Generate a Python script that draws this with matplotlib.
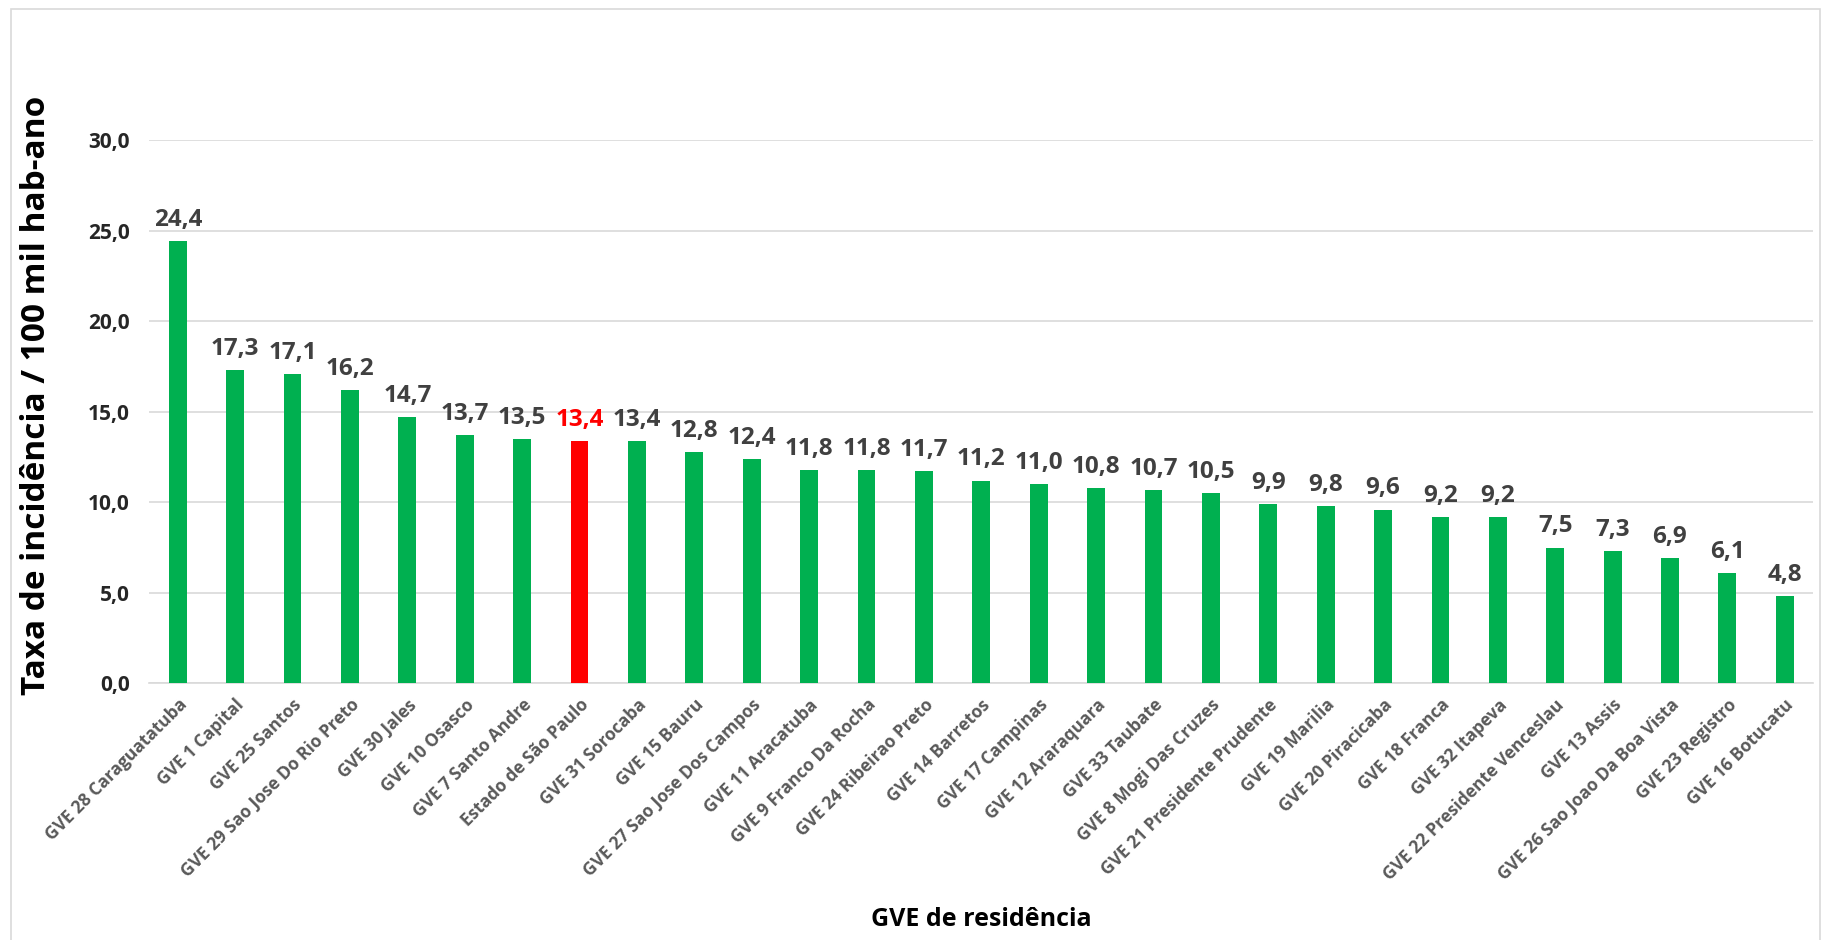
import matplotlib.pyplot as plt
from matplotlib.patches import Rectangle

plt.rcParams['font.family'] = ['Open Sans', 'DejaVu Sans']

gve = ['GVE 28 Caraguatatuba', 'GVE 1 Capital', 'GVE 25 Santos', 'GVE 29 Sao Jose Do Rio Preto',
       'GVE 30 Jales', 'GVE 10 Osasco', 'GVE 7 Santo Andre', 'Estado de São Paulo',
       'GVE 31 Sorocaba', 'GVE 15 Bauru', 'GVE 27 Sao Jose Dos Campos', 'GVE 11 Aracatuba',
       'GVE 9 Franco Da Rocha', 'GVE 24 Ribeirao Preto', 'GVE 14 Barretos', 'GVE 17 Campinas',
       'GVE 12 Araraquara', 'GVE 33 Taubate', 'GVE 8 Mogi Das Cruzes', 'GVE 21 Presidente Prudente',
       'GVE 19 Marilia', 'GVE 20 Piracicaba', 'GVE 18 Franca', 'GVE 32 Itapeva',
       'GVE 22 Presidente Venceslau', 'GVE 13 Assis', 'GVE 26 Sao Joao Da Boa Vista',
       'GVE 23 Registro', 'GVE 16 Botucatu']
taxa = [24.4, 17.3, 17.1, 16.2, 14.7, 13.7, 13.5, 13.4, 13.4, 12.8, 12.4, 11.8, 11.8, 11.7,
        11.2, 11.0, 10.8, 10.7, 10.5, 9.9, 9.8, 9.6, 9.2, 9.2, 7.5, 7.3, 6.9, 6.1, 4.8]
estado = 'Estado de São Paulo'

cores = ['#ff0000' if g == estado else '#00b050' for g in gve]

fig = plt.figure(figsize=(18.27, 9.4), dpi=100)
ax = fig.add_axes([0.0816, 0.273, 0.911, 0.578])

x = range(len(gve))
ax.bar(x, taxa, width=0.31, color=cores, zorder=3)

for i, v in enumerate(taxa):
    c = '#ff0000' if gve[i] == estado else '#404040'
    ax.text(i, v + 0.5, f'{v:.1f}'.replace('.', ','), ha='center', va='bottom',
            fontsize=17.5, fontweight='bold', color=c)

ax.set_xlim(-0.5, len(gve) - 0.5)
ax.set_ylim(0, 30)
ax.set_yticks([0, 5, 10, 15, 20, 25, 30])
ax.set_yticklabels([f'{t:.1f}'.replace('.', ',') for t in [0, 5, 10, 15, 20, 25, 30]],
                   fontsize=15, fontweight='bold', color='#262626')
ax.set_xticks(list(x))
ax.set_xticklabels(gve, rotation=45, ha='right', rotation_mode='anchor',
                   fontsize=12.5, fontweight='bold', color='#595959')
ax.tick_params(axis='both', length=0)
ax.tick_params(axis='y', pad=14)
ax.tick_params(axis='x', pad=9)

ax.grid(axis='y', color='#d9d9d9', linewidth=1.2, zorder=0)
for s in ['top', 'right', 'left']:
    ax.spines[s].set_visible(False)
ax.spines['bottom'].set_color('#d9d9d9')
ax.spines['bottom'].set_linewidth(1.2)

ax.set_ylabel('Taxa de incidência / 100 mil hab-ano', fontsize=24, fontweight='bold', color='black')
ax.yaxis.set_label_coords(-0.058, 0.53)
fig.text(0.537, 0.008, 'GVE de residência', ha='center', va='bottom',
         fontsize=18, fontweight='bold', color='black')

fig.patches.append(Rectangle((0.006, -0.01), 0.99, 1.0, transform=fig.transFigure,
                             fill=False, edgecolor='#d9d9d9', linewidth=1.2))

fig.savefig('out.png', dpi=100)
